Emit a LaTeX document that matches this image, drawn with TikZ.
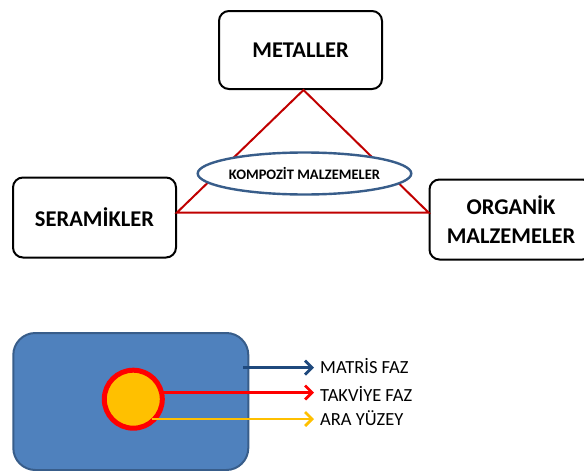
\documentclass[tikz,border=0pt]{standalone}
\usepackage{fontspec}
\setmainfont{Carlito}
\usetikzlibrary{shapes.geometric,arrows.meta}
\definecolor{tridark}{RGB}{192,0,0}
\definecolor{accblue}{RGB}{79,129,189}
\definecolor{accedge}{RGB}{56,93,138}
\definecolor{navy}{RGB}{31,73,125}
\definecolor{amber}{RGB}{255,192,0}
\tikzset{
  classbox/.style={draw=black, line width=2pt, rounded corners=10pt, fill=white,
    minimum width=163pt, minimum height=78pt, align=center,
    font=\fontsize{22.5}{29}\selectfont\bfseries},
  triline/.style={draw=tridark, line width=2pt},
  legendarrow/.style={line width=2.8pt, -{Straight Barb[length=7pt,width=14pt]}},
  legendtext/.style={anchor=west, inner sep=0pt, font=\fontsize{18.5}{20}\selectfont}
}
\begin{document}
\begin{tikzpicture}[x=1pt,y=-1pt]
\useasboundingbox (0,0) rectangle (584,471);
\begin{scope}
\clip (0,0) rectangle (584,471);
% material classes
\node[classbox] (metal) at (300.5,50) {METALLER};
\node[classbox, minimum height=80pt] (seram) at (94.5,217.5) {SERAMİKLER};
\node[classbox, minimum height=80pt] (organ) at (511,219.5) {ORGANİK\\MALZEMELER};
% triangle linking the classes
\coordinate (tl) at ([yshift=5pt]seram.east);
\coordinate (tr) at ([yshift=7pt]organ.west);
\coordinate (tt) at ([xshift=3pt]metal.south);
\draw[triline] (tt) -- (tl) -- (tr) -- cycle;
% composite in the middle
\node[draw=accedge, line width=2.4pt, ellipse, fill=white, minimum width=171pt,
  minimum height=42pt, inner sep=0pt, font=\fontsize{14.5}{16}\selectfont\bfseries]
  (komp) at (304.5,173.5) {KOMPOZİT MALZEMELER};
% matrix with embedded reinforcement
\node[draw=accedge, line width=2pt, fill=accblue, rounded corners=22pt,
  minimum width=235pt, minimum height=137pt] (matrix) at (130.8,401.5) {};
\node[circle, draw=red, line width=5pt, fill=amber, minimum size=58pt,
  inner sep=0pt] (fiber) at (133.3,399.2) {};
% legend
\node[legendtext] (lmat) at (320,366) {MATRİS FAZ};
\node[legendtext] (ltak) at (320,393.5) {TAKVİYE FAZ};
\node[legendtext] (lara) at (320,418) {ARA YÜZEY};
\coordinate (smat) at (243,367.7);
\coordinate (stak) at (163,392.5);
\coordinate (sara) at (152,419);
\draw[legendarrow, navy] (smat) -- ([xshift=-6pt]smat -| lmat.west);
\draw[legendarrow, red] (stak) -- ([xshift=-6pt]stak -| ltak.west);
\draw[legendarrow, amber] (sara) -- ([xshift=-6pt]sara -| lara.west);
\end{scope}
\end{tikzpicture}
\end{document}
